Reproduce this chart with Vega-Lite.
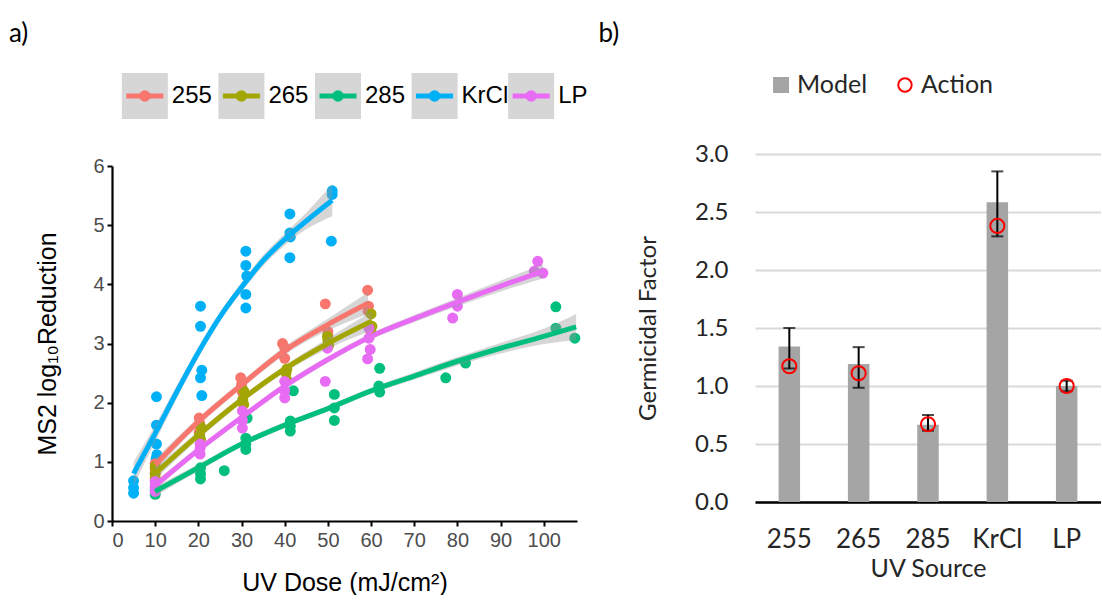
{
  "$schema": "https://vega.github.io/schema/vega-lite/v6.json",
  "background": "white",
  "padding": {"left": 8, "top": 21, "right": 0, "bottom": 0},
  "config": {"view": {"stroke": null}},
  "datasets": {
    "pts": [
      {"s":"KrCl","dose":5,"y":0.68},{"s":"KrCl","dose":5,"y":0.56},{"s":"KrCl","dose":5,"y":0.47},
      {"s":"KrCl","dose":10.3,"y":2.1},{"s":"KrCl","dose":10.3,"y":1.62},{"s":"KrCl","dose":10.3,"y":1.3},{"s":"KrCl","dose":10.4,"y":1.12},{"s":"KrCl","dose":10.2,"y":1.05},
      {"s":"KrCl","dose":20.5,"y":3.63},{"s":"KrCl","dose":20.5,"y":3.29},{"s":"KrCl","dose":20.8,"y":2.55},{"s":"KrCl","dose":20.5,"y":2.42},{"s":"KrCl","dose":20.8,"y":2.12},
      {"s":"KrCl","dose":31,"y":4.56},{"s":"KrCl","dose":31,"y":4.32},{"s":"KrCl","dose":31.2,"y":4.14},{"s":"KrCl","dose":31,"y":3.83},{"s":"KrCl","dose":31,"y":3.6},
      {"s":"KrCl","dose":41.2,"y":5.19},{"s":"KrCl","dose":41.2,"y":4.87},{"s":"KrCl","dose":41.3,"y":4.8},{"s":"KrCl","dose":41.2,"y":4.45},
      {"s":"KrCl","dose":51,"y":5.58},{"s":"KrCl","dose":51,"y":5.52},{"s":"KrCl","dose":50.8,"y":4.73},
      {"s":"255","dose":10,"y":0.97},{"s":"255","dose":10,"y":0.88},{"s":"255","dose":10,"y":0.8},
      {"s":"255","dose":20.2,"y":1.74},{"s":"255","dose":20.3,"y":1.65},{"s":"255","dose":20.2,"y":1.5},
      {"s":"255","dose":29.8,"y":2.42},{"s":"255","dose":30,"y":2.3},{"s":"255","dose":30.2,"y":2.18},
      {"s":"255","dose":39.5,"y":3.0},{"s":"255","dose":40,"y":2.93},{"s":"255","dose":40,"y":2.75},
      {"s":"255","dose":49.4,"y":3.67},{"s":"255","dose":50,"y":3.2},{"s":"255","dose":50,"y":3.12},
      {"s":"255","dose":59.2,"y":3.9},{"s":"255","dose":59.4,"y":3.63},{"s":"255","dose":59.3,"y":3.55},
      {"s":"265","dose":10,"y":0.92},{"s":"265","dose":10,"y":0.8},{"s":"265","dose":10,"y":0.72},
      {"s":"265","dose":20.5,"y":1.6},{"s":"265","dose":20.3,"y":1.45},{"s":"265","dose":20.5,"y":1.38},
      {"s":"265","dose":30.5,"y":2.2},{"s":"265","dose":30.3,"y":2.05},{"s":"265","dose":30.5,"y":1.97},
      {"s":"265","dose":40.5,"y":2.57},{"s":"265","dose":40.3,"y":2.5},{"s":"265","dose":40.5,"y":2.38},
      {"s":"265","dose":49.9,"y":3.12},{"s":"265","dose":50,"y":3.05},{"s":"265","dose":50.2,"y":2.97},
      {"s":"265","dose":60,"y":3.5},{"s":"265","dose":60.2,"y":3.29},{"s":"265","dose":60,"y":3.2},
      {"s":"285","dose":10,"y":0.52},{"s":"285","dose":10,"y":0.45},
      {"s":"285","dose":20.5,"y":0.9},{"s":"285","dose":20.5,"y":0.8},{"s":"285","dose":20.5,"y":0.71},
      {"s":"285","dose":26,"y":0.85},
      {"s":"285","dose":31,"y":1.4},{"s":"285","dose":31,"y":1.3},{"s":"285","dose":31,"y":1.21},{"s":"285","dose":31.3,"y":1.74},
      {"s":"285","dose":41.3,"y":1.69},{"s":"285","dose":41.3,"y":1.6},{"s":"285","dose":41.3,"y":1.52},{"s":"285","dose":42,"y":2.2},
      {"s":"285","dose":51.5,"y":2.14},{"s":"285","dose":51.5,"y":1.91},{"s":"285","dose":51.5,"y":1.7},
      {"s":"285","dose":62,"y":2.58},{"s":"285","dose":61.8,"y":2.28},{"s":"285","dose":62,"y":2.18},
      {"s":"285","dose":77.3,"y":2.42},{"s":"285","dose":81.9,"y":2.67},
      {"s":"285","dose":102.8,"y":3.62},{"s":"285","dose":102.8,"y":3.26},{"s":"285","dose":107.2,"y":3.09},
      {"s":"LP","dose":10,"y":0.67},{"s":"LP","dose":10,"y":0.6},{"s":"LP","dose":10,"y":0.56},{"s":"LP","dose":10,"y":0.5},
      {"s":"LP","dose":20.4,"y":1.3},{"s":"LP","dose":20.4,"y":1.23},{"s":"LP","dose":20.4,"y":1.13},
      {"s":"LP","dose":30.2,"y":1.86},{"s":"LP","dose":30.2,"y":1.7},{"s":"LP","dose":30.2,"y":1.57},
      {"s":"LP","dose":40,"y":2.36},{"s":"LP","dose":40,"y":2.2},{"s":"LP","dose":40,"y":2.08},
      {"s":"LP","dose":49.4,"y":2.36},{"s":"LP","dose":49.9,"y":2.92},
      {"s":"LP","dose":59.5,"y":3.26},{"s":"LP","dose":59.5,"y":3.09},{"s":"LP","dose":59.8,"y":2.9},{"s":"LP","dose":59.2,"y":2.74},
      {"s":"LP","dose":80,"y":3.83},{"s":"LP","dose":80,"y":3.63},{"s":"LP","dose":78.9,"y":3.43},
      {"s":"LP","dose":98.6,"y":4.39},{"s":"LP","dose":99.8,"y":4.19},{"s":"LP","dose":97.8,"y":4.22}
    ],
    "fit": [
      {"s":"KrCl","dose":5,"fit":0.8,"lo":0.6,"hi":1.0},
      {"s":"KrCl","dose":10,"fit":1.48,"lo":1.34,"hi":1.62},
      {"s":"KrCl","dose":15,"fit":2.18,"lo":2.07,"hi":2.29},
      {"s":"KrCl","dose":20,"fit":2.85,"lo":2.76,"hi":2.94},
      {"s":"KrCl","dose":25,"fit":3.45,"lo":3.37,"hi":3.53},
      {"s":"KrCl","dose":30,"fit":3.95,"lo":3.87,"hi":4.03},
      {"s":"KrCl","dose":35,"fit":4.4,"lo":4.31,"hi":4.49},
      {"s":"KrCl","dose":40,"fit":4.76,"lo":4.66,"hi":4.86},
      {"s":"KrCl","dose":45,"fit":5.07,"lo":4.93,"hi":5.21},
      {"s":"KrCl","dose":51,"fit":5.42,"lo":5.15,"hi":5.69},
      {"s":"255","dose":10,"fit":0.95,"lo":0.85,"hi":1.05},
      {"s":"255","dose":20,"fit":1.68,"lo":1.61,"hi":1.75},
      {"s":"255","dose":30,"fit":2.3,"lo":2.24,"hi":2.36},
      {"s":"255","dose":40,"fit":2.88,"lo":2.81,"hi":2.95},
      {"s":"255","dose":50,"fit":3.32,"lo":3.22,"hi":3.42},
      {"s":"255","dose":59.3,"fit":3.68,"lo":3.5,"hi":3.86},
      {"s":"265","dose":10,"fit":0.8,"lo":0.7,"hi":0.9},
      {"s":"265","dose":20,"fit":1.45,"lo":1.38,"hi":1.52},
      {"s":"265","dose":30,"fit":2.05,"lo":1.99,"hi":2.11},
      {"s":"265","dose":40,"fit":2.57,"lo":2.51,"hi":2.63},
      {"s":"265","dose":50,"fit":3.0,"lo":2.91,"hi":3.09},
      {"s":"265","dose":60.2,"fit":3.38,"lo":3.22,"hi":3.54},
      {"s":"285","dose":10,"fit":0.5,"lo":0.42,"hi":0.58},
      {"s":"285","dose":20,"fit":0.9,"lo":0.84,"hi":0.96},
      {"s":"285","dose":30,"fit":1.3,"lo":1.25,"hi":1.35},
      {"s":"285","dose":40,"fit":1.62,"lo":1.57,"hi":1.67},
      {"s":"285","dose":50,"fit":1.9,"lo":1.85,"hi":1.95},
      {"s":"285","dose":60,"fit":2.2,"lo":2.15,"hi":2.25},
      {"s":"285","dose":70,"fit":2.45,"lo":2.39,"hi":2.51},
      {"s":"285","dose":80,"fit":2.7,"lo":2.63,"hi":2.77},
      {"s":"285","dose":90,"fit":2.92,"lo":2.83,"hi":3.01},
      {"s":"285","dose":100,"fit":3.12,"lo":2.99,"hi":3.25},
      {"s":"285","dose":107.5,"fit":3.28,"lo":3.06,"hi":3.5},
      {"s":"LP","dose":10,"fit":0.6,"lo":0.53,"hi":0.67},
      {"s":"LP","dose":20,"fit":1.2,"lo":1.15,"hi":1.25},
      {"s":"LP","dose":30,"fit":1.75,"lo":1.7,"hi":1.8},
      {"s":"LP","dose":40,"fit":2.28,"lo":2.23,"hi":2.33},
      {"s":"LP","dose":50,"fit":2.73,"lo":2.68,"hi":2.78},
      {"s":"LP","dose":60,"fit":3.12,"lo":3.07,"hi":3.17},
      {"s":"LP","dose":70,"fit":3.42,"lo":3.36,"hi":3.48},
      {"s":"LP","dose":80,"fit":3.7,"lo":3.63,"hi":3.77},
      {"s":"LP","dose":90,"fit":3.97,"lo":3.88,"hi":4.06},
      {"s":"LP","dose":99.8,"fit":4.22,"lo":4.1,"hi":4.34}
    ],
    "legA": [{"s":"255"},{"s":"265"},{"s":"285"},{"s":"KrCl"},{"s":"LP"}],
    "legB": [{"k":"Model"},{"k":"Action"}],
    "bars": [
      {"src":"255","model":1.34,"lo":1.15,"hi":1.5,"action":1.17},
      {"src":"265","model":1.19,"lo":0.985,"hi":1.335,"action":1.11},
      {"src":"285","model":0.665,"lo":0.615,"hi":0.75,"action":0.67},
      {"src":"KrCl","model":2.585,"lo":2.29,"hi":2.85,"action":2.38},
      {"src":"LP","model":1.0,"lo":0.955,"hi":1.045,"action":1.0}
    ]
  },
  "spacing": 10,
  "hconcat": [
    {
      "title": {"text": "a)", "anchor": "start", "font": "Lato", "fontSize": 26, "fontWeight": "normal", "color": "black", "dx": -27, "offset": 26},
      "spacing": 37,
      "vconcat": [
        {
          "width": 452, "height": 46,
          "data": {"name": "legA"},
          "encoding": {"x": {"field": "s", "type": "nominal", "axis": null, "scale": {"type": "point", "padding": 0.34, "domain": ["255","265","285","KrCl","LP"]}}},
          "layer": [
            {"mark": {"type": "point", "shape": "square", "filled": true, "size": 2116, "color": "#D6D6D6", "opacity": 1}},
            {"mark": {"type": "point", "shape": "M-1,0L1,0", "filled": false, "size": 1369, "strokeWidth": 5, "opacity": 1},
             "encoding": {"color": {"field": "s", "type": "nominal", "legend": null, "scale": {"domain": ["255","265","285","KrCl","LP"], "range": ["#F8766D","#A3A500","#00BF7D","#00B0F6","#E76BF3"]}}}},
            {"mark": {"type": "point", "shape": "circle", "filled": true, "size": 130, "opacity": 1},
             "encoding": {"color": {"field": "s", "type": "nominal", "legend": null, "scale": {"domain": ["255","265","285","KrCl","LP"], "range": ["#F8766D","#A3A500","#00BF7D","#00B0F6","#E76BF3"]}}}},
            {"mark": {"type": "text", "align": "left", "baseline": "middle", "dx": 27, "font": "Liberation Sans", "fontSize": 24, "color": "black"},
             "encoding": {"text": {"field": "s"}}}
          ]
        },
        {
          "width": 465, "height": 355,
          "encoding": {
            "x": {"field": "dose", "type": "quantitative", "scale": {"domain": [0, 107.7], "nice": false, "zero": true},
                  "axis": {"title": "UV Dose (mJ/cm²)", "values": [0,10,20,30,40,50,60,70,80,90,100], "format": "d", "grid": false, "domainColor": "black", "domainWidth": 2.2, "tickColor": "black", "tickWidth": 2, "tickSize": 5, "labelFont": "Liberation Sans", "labelFontSize": 20, "labelColor": "#4D4D4D", "labelPadding": 4, "titleFont": "Liberation Sans", "titleFontSize": 25, "titleFontWeight": "normal", "titleColor": "black", "titlePadding": 20}}
          },
          "layer": [
            {"data": {"name": "pts"}, "mark": {"type": "point", "filled": true, "size": 120, "opacity": 1},
             "encoding": {
               "y": {"field": "y", "type": "quantitative", "scale": {"domain": [0, 6], "nice": false},
                     "axis": {"title": "MS2 log₁₀Reduction", "values": [0,1,2,3,4,5,6], "format": "d", "grid": false, "domainColor": "black", "domainWidth": 2.2, "tickColor": "black", "tickWidth": 2, "tickSize": 5, "labelFont": "Liberation Sans", "labelFontSize": 20, "labelColor": "#4D4D4D", "labelPadding": 3, "titleFont": "Liberation Sans", "titleFontSize": 25, "titleFontWeight": "normal", "titleColor": "black", "titlePadding": 32}},
               "color": {"field": "s", "type": "nominal", "legend": null, "scale": {"domain": ["255","265","285","KrCl","LP"], "range": ["#F8766D","#A3A500","#00BF7D","#00B0F6","#E76BF3"]}}
             }},
            {"data": {"name": "fit"}, "mark": {"type": "area", "color": "#999999", "opacity": 0.4, "interpolate": "monotone"},
             "encoding": {"y": {"field": "lo", "type": "quantitative"}, "y2": {"field": "hi"}, "detail": {"field": "s"}}},
            {"data": {"name": "fit"}, "mark": {"type": "line", "strokeWidth": 5, "interpolate": "monotone"},
             "encoding": {"y": {"field": "fit", "type": "quantitative"},
               "color": {"field": "s", "type": "nominal", "legend": null, "scale": {"domain": ["255","265","285","KrCl","LP"], "range": ["#F8766D","#A3A500","#00BF7D","#00B0F6","#E76BF3"]}}}}
          ]
        }
      ]
    },
    {
      "title": {"text": "b)", "anchor": "start", "font": "Lato", "fontSize": 26, "fontWeight": "normal", "color": "black", "dx": -38, "offset": 26},
      "spacing": 44,
      "vconcat": [
        {
          "width": 176, "height": 24,
          "data": {"name": "legB"},
          "encoding": {"x": {"field": "k", "type": "nominal", "axis": null, "scale": {"type": "point", "padding": 0.21, "domain": ["Model","Action"]}}},
          "layer": [
            {"transform": [{"filter": "datum.k == 'Model'"}], "mark": {"type": "point", "shape": "square", "filled": true, "size": 256, "color": "#A5A5A5", "opacity": 1}},
            {"transform": [{"filter": "datum.k == 'Action'"}], "mark": {"type": "point", "shape": "circle", "filled": false, "size": 180, "color": "#FF0000", "strokeWidth": 2, "opacity": 1}},
            {"mark": {"type": "text", "align": "left", "baseline": "middle", "dx": 16, "font": "Lato", "fontSize": 25, "color": "#262626"},
             "encoding": {"text": {"field": "k"}}}
          ]
        },
        {
          "width": 346, "height": 348,
          "data": {"name": "bars"},
          "encoding": {
            "x": {"field": "src", "type": "nominal", "sort": null, "scale": {"domain": ["255","265","285","KrCl","LP"], "paddingInner": 0.69, "paddingOuter": 0.34},
                  "axis": {"title": "UV Source", "labelAngle": 0, "domainColor": "black", "domainWidth": 2.5, "ticks": false, "labelFont": "Lato", "labelFontSize": 26, "labelColor": "#262626", "labelPadding": 24, "titleFont": "Lato", "titleFontSize": 25, "titleFontWeight": "normal", "titleColor": "#262626", "titlePadding": 4}}
          },
          "layer": [
            {"mark": {"type": "bar", "color": "#A5A5A5"},
             "encoding": {"y": {"field": "model", "type": "quantitative", "scale": {"domain": [0, 3], "nice": false},
               "axis": {"title": "Germicidal Factor", "values": [0,0.5,1,1.5,2,2.5,3], "format": ".1f", "domain": false, "ticks": false, "grid": true, "gridColor": "#D9D9D9", "gridWidth": 2, "labelFont": "Lato", "labelFontSize": 24, "labelColor": "#262626", "labelPadding": 27, "titleFont": "Lato", "titleFontSize": 24, "titleFontWeight": "normal", "titleColor": "#262626", "titlePadding": 34}}}},
            {"mark": {"type": "rule", "color": "black", "strokeWidth": 2},
             "encoding": {"y": {"field": "lo", "type": "quantitative"}, "y2": {"field": "hi"}}},
            {"mark": {"type": "tick", "color": "black", "size": 12, "thickness": 2},
             "encoding": {"y": {"field": "lo", "type": "quantitative"}}},
            {"mark": {"type": "tick", "color": "black", "size": 12, "thickness": 2},
             "encoding": {"y": {"field": "hi", "type": "quantitative"}}},
            {"mark": {"type": "point", "shape": "circle", "filled": false, "size": 200, "color": "#FF0000", "strokeWidth": 2, "opacity": 1},
             "encoding": {"y": {"field": "action", "type": "quantitative"}}}
          ]
        }
      ]
    }
  ]
}
